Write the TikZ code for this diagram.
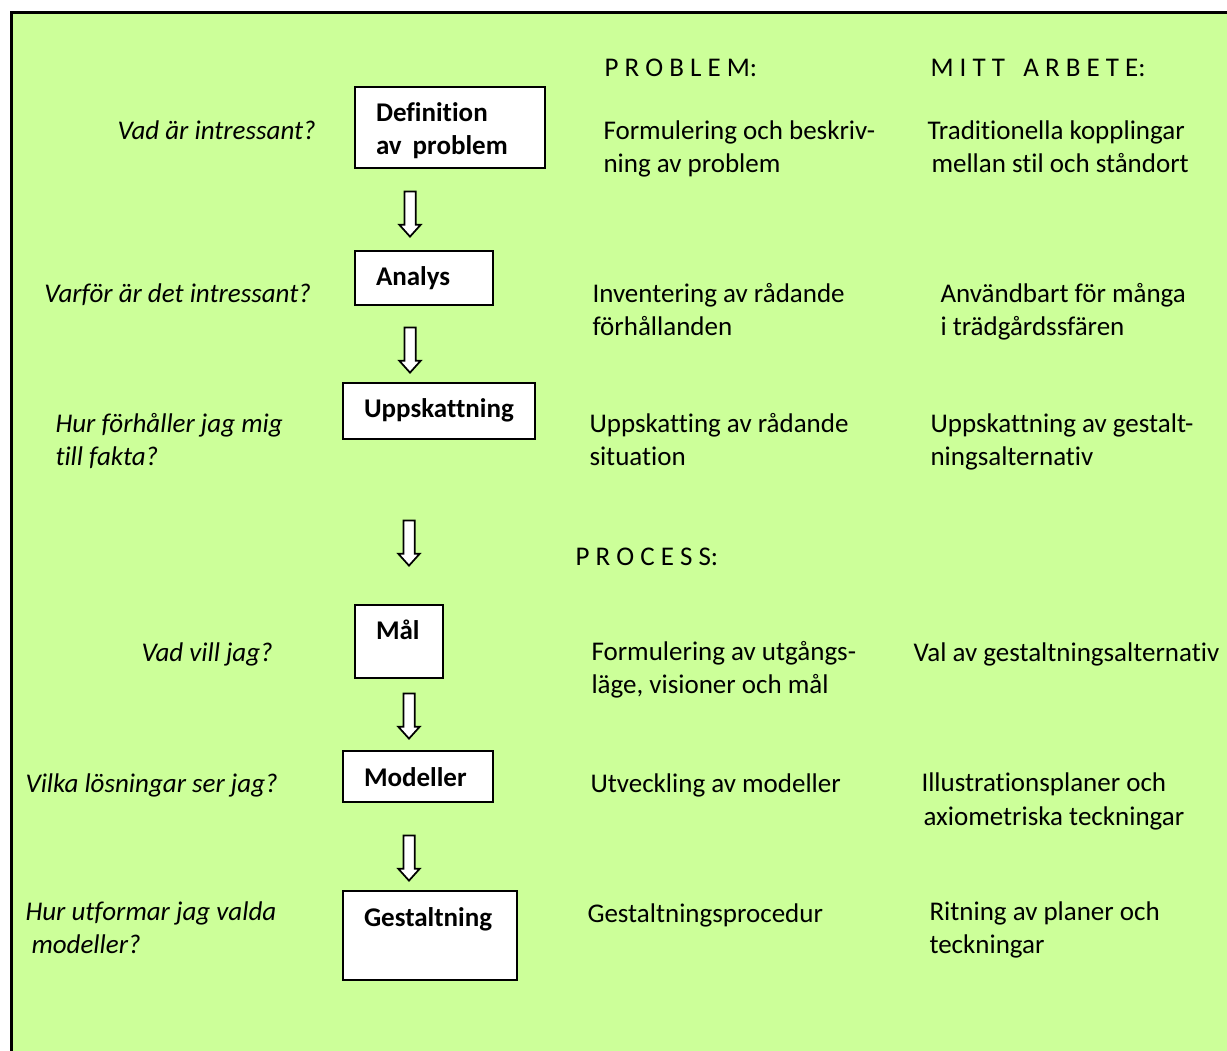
\documentclass[tikz,border=0pt]{standalone}
\usepackage{fontspec}
\setmainfont{Carlito}[Ligatures=NoCommon]
\usetikzlibrary{shapes.arrows}
\definecolor{bggreen}{HTML}{CCFF99}

\begin{document}
\begin{tikzpicture}[x=0.4pt,y=-0.4pt]
        \tikzstyle{box} = [rectangle, draw=black, fill=white, line width=.8pt, anchor=north west, inner xsep=8.4pt, inner ysep=0pt, text height=14pt, align=left, font=\bfseries\fontsize{10.8}{13.2}\selectfont]
        \tikzstyle{txt} = [anchor=base west, inner sep=0pt, align=left, font=\fontsize{10.8}{13.2}\selectfont]
        \tikzstyle{ask} = [txt, font=\itshape\fontsize{10.8}{13.2}\selectfont]
        \tikzstyle{down} = [single arrow, draw=black, fill=white, line width=.7pt, shape border rotate=270, minimum height=18pt, minimum width=8.4pt, single arrow head extend=2pt, single arrow tip angle=84, inner sep=1.9pt]
        \useasboundingbox (0,0) rectangle (1227,1051);
        \clip (0,0) rectangle (1227,1051);
        \draw[line width=1.2pt, fill=bggreen] (11,13) rectangle (1245,1070);
        % headings
        \node[txt] (hprob) at (604,77) {P R O B L E M:};
        \node[txt] (hmitt) at (930,77) {M I T T \ \ A R B E T E:};
        \node[txt] (hproc) at (575,566) {P R O C E S S:};
        % steps
        \node[box, text width=59.2pt, text depth=18.4pt] (defn) at (354,86) {Definition\\av\hspace{4.4pt}problem};
        \node[box, text width=38.4pt, text depth=7.6pt] (analys) at (354,250) {Analys};
        \node[box, text width=60pt, text depth=8.4pt] (uppsk) at (342,382) {Uppskattning};
        \node[box, text width=18.4pt, text depth=15.2pt] (mal) at (354,604) {Mål};
        \node[box, text width=43.2pt, text depth=6.4pt] (modell) at (342,750) {Modeller};
        \node[box, text width=52.8pt, text depth=21.6pt] (gestalt) at (342,890) {Gestaltning};
        \node[down] (a1) at (410,211) {};
        \node[down] (a2) at (410,347) {};
        \node[down] (a3) at (409,540) {};
        \node[down] (a4) at (409,713) {};
        \node[down] (a5) at (409,855) {};
        % questions (base = last line)
        \node[ask] (q1) at (117,140) {Vad är intressant?};
        \node[ask] (q2) at (44,303) {Varför är det intressant?};
        \node[ask] (q3) at (55,466) {Hur förhåller jag mig\\till fakta?};
        \node[ask] (q4) at (141,661) {Vad vill jag?};
        \node[ask] (q5) at (25,792) {Vilka lösningar ser jag?};
        \node[ask] (q6) at (25,953) {Hur utformar jag valda\\\hspace*{2.4pt}modeller?};
        % problem / process
        \node[txt] (p1) at (603,173) {Formulering och beskriv-\\ning av problem};
        \node[txt] (p2) at (592,336) {Inventering av rådande\\förhållanden};
        \node[txt] (p3) at (589,466) {Uppskatting av rådande\\situation};
        \node[txt] (p4) at (591,694) {Formulering av utgångs-\\läge, visioner och mål};
        \node[txt] (p5) at (590,792) {Utveckling av modeller};
        \node[txt] (p6) at (587,922) {Gestaltningsprocedur};
        % mitt arbete
        \node[txt] (m1) at (927,173) {Traditionella kopplingar\\\hspace*{1.6pt}mellan stil och ståndort};
        \node[txt] (m2) at (940,336) {Användbart för många\\i trädgårdssfären};
        \node[txt] (m3) at (930,466) {Uppskattning av gestalt-\\ningsalternativ};
        \node[txt] (m4) at (913,661) {Val av gestaltningsalternativ};
        \node[txt] (m5) at (921,825) {Illustrationsplaner och\\\hspace*{0.8pt}axiometriska teckningar};
        \node[txt] (m6) at (929,953) {Ritning av planer och\\teckningar};
\end{tikzpicture}
\end{document}
